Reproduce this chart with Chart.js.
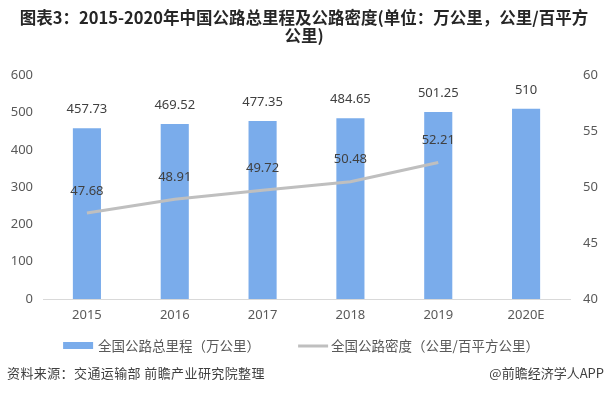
<!DOCTYPE html>
<html>
<head>
  <meta charset="utf-8">
  <title>公路总里程及公路密度</title>
  <style>
    body {
      margin: 0;
      background-color: #ffffff;
      font-family: "Noto Sans CJK SC", "Noto Sans", sans-serif;
    }
    .wrap {
      position: relative;
      width: 608px;
      height: 394px;
    }
    .source, .brand {
      position: absolute;
      top: 363px;
      font-size: 13px;
      color: #404040;
      letter-spacing: 0.4px;
    }
    .source { left: 7px; }
    .brand { right: 4px; letter-spacing: 0; }
  </style>
  <script src="https://cdn.jsdelivr.net/npm/chart.js"></script>
</head>
<body>
  <div class="wrap">
    <canvas id="chartCanvas" width="608" height="394"></canvas>
    <div class="source">资料来源：交通运输部 前瞻产业研究院整理</div>
    <div class="brand">@前瞻经济学人APP</div>
  </div>

  <script>
    // Data.
    var years = ['2015', '2016', '2017', '2018', '2019', '2020E'];
    var mileage = [457.73, 469.52, 477.35, 484.65, 501.25, 510];   // 万公里
    var density = [47.68, 48.91, 49.72, 50.48, 52.21, null];       // 公里/百平方公里
    var mileageLabels = ['457.73', '469.52', '477.35', '484.65', '501.25', '510'];
    var densityLabels = ['47.68', '48.91', '49.72', '50.48', '52.21', ''];

    var titleLines = ['图表3：2015-2020年中国公路总里程及公路密度(单位：万公里，公里/百平方', '公里)'];

    var barColor = '#7aaceb';
    var lineColor = '#bfbfbf';

    // Value labels above bars and line points.
    var valueLabels = {
      id: 'valueLabels',
      afterDatasetsDraw: function(chart) {
        var ctx = chart.ctx;
        ctx.save();
        ctx.font = '13px "Noto Sans", "DejaVu Sans", sans-serif';
        ctx.fillStyle = '#404040';
        ctx.textAlign = 'center';
        ctx.textBaseline = 'middle';
        chart.getDatasetMeta(0).data.forEach(function(bar, i) {
          ctx.fillText(mileageLabels[i], bar.x, bar.y - 19);
        });
        chart.getDatasetMeta(1).data.forEach(function(pt, i) {
          if (density[i] === null) return;
          ctx.fillText(densityLabels[i], pt.x, pt.y - 22);
        });
        ctx.restore();
      }
    };

    // Legend under the x axis (the built-in one can't space items wide enough here).
    var bottomLegend = {
      id: 'bottomLegend',
      afterDraw: function(chart) {
        var ctx = chart.ctx;
        var ds = chart.data.datasets;
        var y = chart.chartArea.bottom + 47;
        ctx.save();
        ctx.font = '13.5px "Noto Sans CJK SC", sans-serif';
        ctx.textBaseline = 'middle';
        ctx.textAlign = 'left';
        var w0 = ctx.measureText(ds[0].label).width;
        var w1 = ctx.measureText(ds[1].label).width;
        var total = 30 + 5 + w0 + 38 + 30 + 3 + w1;
        var x = (chart.width - total) / 2 - 3;
        ctx.fillStyle = barColor;
        ctx.fillRect(x, y - 4, 30, 7);
        x += 35;
        ctx.fillStyle = '#595959';
        ctx.fillText(ds[0].label, x, y);
        x += w0 + 38;
        ctx.strokeStyle = lineColor;
        ctx.lineWidth = 3;
        ctx.beginPath();
        ctx.moveTo(x, y);
        ctx.lineTo(x + 30, y);
        ctx.stroke();
        x += 33;
        ctx.fillText(ds[1].label, x, y);
        ctx.restore();
      }
    };

    var tickFont = { size: 13, family: '"Noto Sans", sans-serif' };

    var ctx = document.getElementById('chartCanvas').getContext('2d');
    var chart = new Chart(ctx, {
      type: 'bar',
      data: {
        labels: years,
        datasets: [
          {
            label: '全国公路总里程（万公里）',
            data: mileage,
            backgroundColor: barColor,
            borderWidth: 0,
            yAxisID: 'y',
            order: 2,
            categoryPercentage: 1,
            barPercentage: 0.32
          },
          {
            type: 'line',
            label: '全国公路密度（公里/百平方公里）',
            data: density,
            borderColor: lineColor,
            backgroundColor: lineColor,
            borderWidth: 3,
            pointRadius: 0,
            tension: 0,
            yAxisID: 'y1',
            order: 1
          }
        ]
      },
      options: {
        responsive: false,
        animation: false,
        layout: { padding: { top: 5, bottom: 65, left: 0, right: 0 } },
        plugins: {
          title: {
            display: true,
            text: titleLines,
            color: '#262626',
            font: { family: '"Noto Sans CJK SC", sans-serif', size: 16.5, weight: 'bold', lineHeight: 1.1 },
            padding: { top: 4, bottom: 30 }
          },
          legend: { display: false },
          tooltip: { enabled: false }
        },
        scales: {
          x: {
            grid: { display: false, drawTicks: false },
            border: { display: true, color: '#d9d9d9', width: 1 },
            ticks: { color: '#595959', font: tickFont, padding: 8 },
            afterFit: function(axis) { axis.height = 30; }
          },
          y: {
            position: 'left',
            min: 0,
            max: 600,
            grid: { display: false, drawTicks: false },
            border: { display: false },
            ticks: { stepSize: 100, color: '#595959', font: tickFont, padding: 10 },
            afterFit: function(axis) { axis.width = 43; }
          },
          y1: {
            position: 'right',
            min: 40,
            max: 60,
            grid: { display: false, drawTicks: false },
            border: { display: false },
            ticks: { stepSize: 5, color: '#595959', font: tickFont, padding: 13 },
            afterFit: function(axis) { axis.width = 38; }
          }
        }
      },
      plugins: [valueLabels, bottomLegend]
    });
  </script>
</body>
</html>
